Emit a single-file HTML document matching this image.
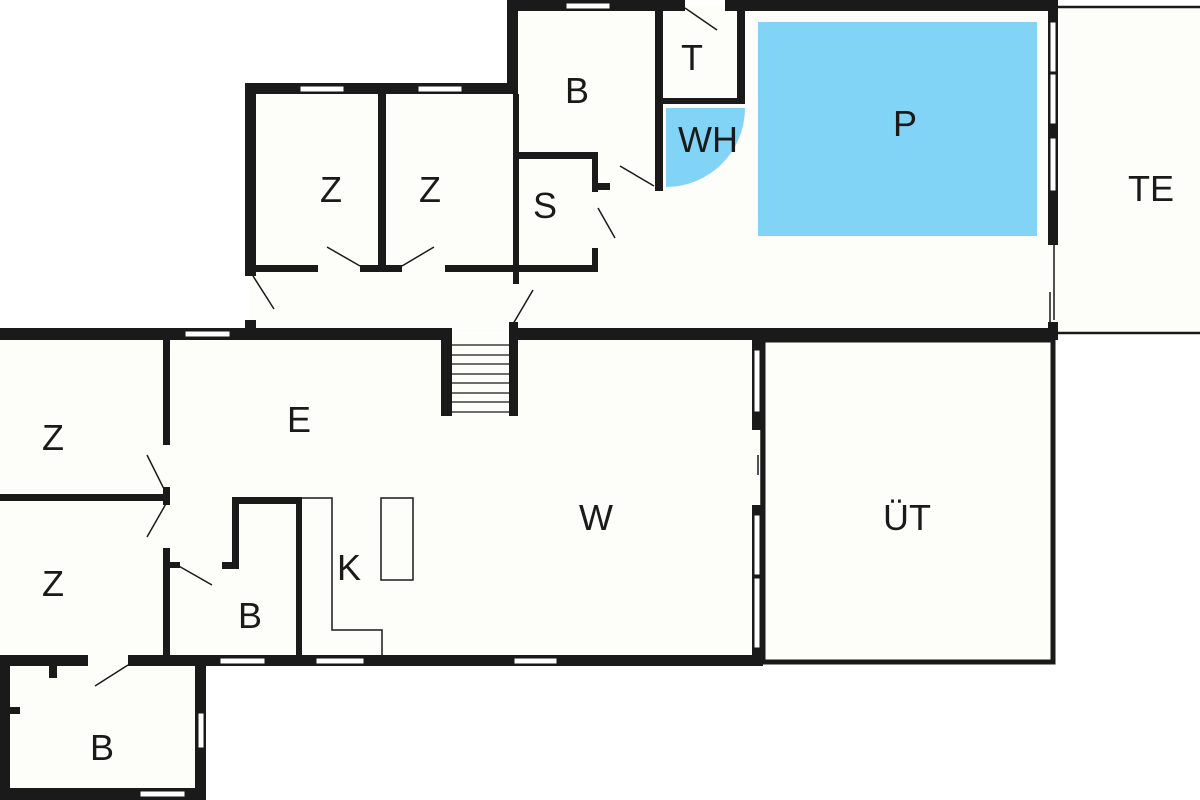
<!DOCTYPE html>
<html><head><meta charset="utf-8"><style>
html,body{margin:0;padding:0;background:#fff}
svg{display:block}
text{font-family:"Liberation Sans",sans-serif;font-size:36px;fill:#1a1a1a;text-anchor:middle}
</style></head><body>
<svg width="1200" height="800" viewBox="0 0 1200 800">
<g fill="#fdfdf9">
<rect x="250" y="88" width="808" height="245"/>
<rect x="510" y="5" width="548" height="330"/>
<rect x="1058" y="7" width="142" height="326"/>
<rect x="0" y="334" width="763" height="328"/>
<rect x="763" y="340" width="290" height="322"/>
<rect x="5" y="660" width="200" height="135"/>
</g>
<rect x="758" y="22" width="279" height="214" fill="#81d4f5"/>
<path d="M666,108 L745,108 A79,79 0 0 1 666,187 Z" fill="#81d4f5"/>
<g stroke="#1a1a1a" fill="none">
<path d="M1058,7 H1200 M1058,333 H1200" stroke-width="2.5"/>
<rect x="763" y="340" width="290" height="322" stroke-width="5"/>
<path d="M302,498 H332 V630 H382 V658" stroke-width="1.5"/>
<rect x="381" y="498" width="32" height="82" stroke-width="1.5"/>
</g>
<g fill="#1a1a1a">
<rect x="245" y="83" width="272" height="11"/>
<rect x="245" y="83" width="11" height="193"/>
<rect x="245" y="320" width="11" height="20"/>
<rect x="507" y="0" width="11" height="94"/>
<rect x="507" y="0" width="178" height="11"/>
<rect x="725" y="0" width="333" height="11"/>
<rect x="378" y="94" width="8" height="178"/>
<rect x="256" y="265" width="62" height="7"/>
<rect x="360" y="265" width="42" height="7"/>
<rect x="445" y="265" width="153" height="7"/>
<rect x="513" y="94" width="6" height="190"/>
<rect x="513" y="152" width="85" height="7"/>
<rect x="592" y="152" width="6" height="40"/>
<rect x="592" y="183" width="18" height="7"/>
<rect x="592" y="248" width="6" height="24"/>
<rect x="655" y="11" width="8" height="180"/>
<rect x="737" y="11" width="8" height="93"/>
<rect x="663" y="98" width="82" height="6"/>
<rect x="1048" y="0" width="10" height="245"/>
<rect x="1048" y="322" width="10" height="18"/>
<rect x="509" y="322" width="9" height="20"/>
<rect x="0" y="328" width="452" height="12"/>
<rect x="509" y="328" width="549" height="12"/>
<rect x="441" y="328" width="11" height="88"/>
<rect x="509" y="328" width="9" height="88"/>
<rect x="163" y="340" width="7" height="105"/>
<rect x="0" y="494" width="170" height="7"/>
<rect x="163" y="487" width="7" height="18"/>
<rect x="163" y="548" width="7" height="110"/>
<rect x="170" y="562" width="10" height="6"/>
<rect x="222" y="562" width="15" height="7"/>
<rect x="232" y="497" width="7" height="72"/>
<rect x="232" y="497" width="70" height="7"/>
<rect x="296" y="497" width="6" height="161"/>
<rect x="0" y="655" width="88" height="11"/>
<rect x="128" y="655" width="635" height="11"/>
<rect x="752" y="340" width="11" height="90"/>
<rect x="752" y="505" width="11" height="160"/>
<rect x="0" y="655" width="10" height="145"/>
<rect x="195" y="655" width="11" height="145"/>
<rect x="0" y="788" width="206" height="12"/>
<rect x="49" y="666" width="8" height="12"/>
<rect x="10" y="707" width="10" height="7"/>
</g>
<g fill="#fff" stroke="#1a1a1a" stroke-width="1">
<rect x="300" y="86" width="44" height="6"/>
<rect x="418" y="86" width="44" height="6"/>
<rect x="566" y="3" width="44" height="6"/>
<rect x="185" y="331" width="45" height="6"/>
<rect x="220" y="658" width="45" height="6"/>
<rect x="316" y="658" width="48" height="6"/>
<rect x="514" y="658" width="43" height="6"/>
<rect x="140" y="791" width="45" height="6"/>
<rect x="198" y="713" width="6" height="35"/>
<rect x="1050" y="22" width="6" height="50"/>
<rect x="1050" y="74" width="6" height="50"/>
<rect x="1050" y="138" width="6" height="53"/>
<rect x="754" y="350" width="6" height="62"/>
<rect x="754" y="515" width="6" height="60"/>
<rect x="754" y="578" width="6" height="70"/>
</g>
<g stroke="#1a1a1a" stroke-width="1.2">
<path d="M452,345H509 M452,355H509 M452,364H509 M452,374H509 M452,383H509 M452,393H509 M452,402H509 M452,412H509"/>
</g>
<g stroke="#1a1a1a" stroke-width="1.5" fill="none">
<path d="M685,8 L717,30"/>
<path d="M654,186 L620,166"/>
<path d="M598,208 L615,238"/>
<path d="M360,266 L327,247"/>
<path d="M402,266 L434,247"/>
<path d="M253,276 L274,309"/>
<path d="M513,324 L533,290"/>
<path d="M167,495 L147,455"/>
<path d="M167,502 L147,537"/>
<path d="M177,565 L212,585"/>
<path d="M128,665 L95,686"/>
<path d="M1054,245 V320 M1050,292 V322"/>
<path d="M761,430 V505 M758,455 V475"/>
</g>
<text x="577" y="103">B</text>
<text x="692" y="70">T</text>
<text x="708" y="152">WH</text>
<text x="905" y="136">P</text>
<text x="1151" y="201">TE</text>
<text x="331" y="202">Z</text>
<text x="430" y="202">Z</text>
<text x="545" y="218">S</text>
<text x="299" y="432">E</text>
<text x="53" y="450">Z</text>
<text x="53" y="596">Z</text>
<text x="596" y="530">W</text>
<text x="349" y="580">K</text>
<text x="250" y="628">B</text>
<text x="907" y="530">ÜT</text>
<text x="102" y="760">B</text>
</svg>
</body></html>
